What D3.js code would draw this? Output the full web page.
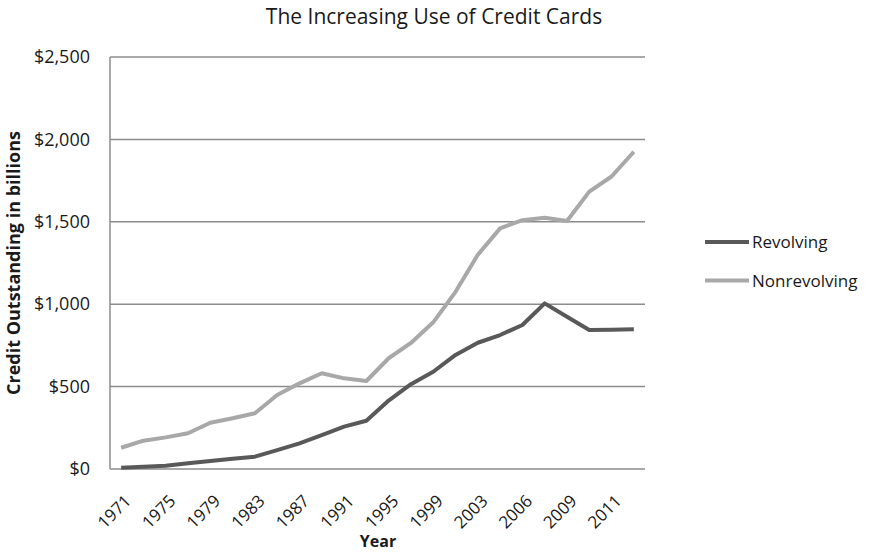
<!DOCTYPE html>
<html><head><meta charset="utf-8">
<script src="https://cdn.jsdelivr.net/npm/d3@7"></script>
<style>body{margin:0;background:#fff;} svg{display:block;} text{font-family:"Open Sans",Lato,sans-serif;fill:#1a1a1a;}</style>
</head><body>
<svg id="c" width="874" height="552"></svg>
<script>
const years = ["1971","1973","1975","1977","1979","1981","1983","1985","1987","1989","1991","1993","1995","1997","1999","2001","2003","2005","2006","2008","2009","2010","2011","2012"];
const shownLabels = ["1971","1975","1979","1983","1987","1991","1995","1999","2003","2006","2009","2011"];
const revolving =    [8, 14, 20, 35, 49, 62, 75, 115, 156, 205, 257, 293, 415, 515, 590, 692, 766, 813, 874, 1005, 924, 843, 845, 848];
const nonrevolving = [129, 172, 192, 217, 281, 308, 338, 449, 520, 581, 550, 534, 672, 765, 890, 1075, 1300, 1460, 1510, 1525, 1505, 1683, 1775, 1925];
const yTicks = [0, 500, 1000, 1500, 2000, 2500];
const seriesNames = ["Revolving", "Nonrevolving"];
const seriesColors = ["#595959", "#a8a8a8"];

const FONT = "'Open Sans',Lato,sans-serif";
const svg = d3.select("#c");
const L = 110, R = 645, T = 57, B = 469;
const x = d3.scaleBand().domain(years).range([L, R]).padding(0);
const xc = d => x(d) + x.bandwidth() / 2;
const y = d3.scaleLinear().domain([0, 2500]).range([B, T]);

// gridlines
svg.append("g").selectAll("line").data(yTicks).join("line")
  .attr("x1", L).attr("x2", R).attr("y1", d => y(d)).attr("y2", d => y(d))
  .attr("stroke", "#8c8c8c").attr("stroke-width", 1.5);
// left axis line
svg.append("line").attr("x1", L).attr("x2", L).attr("y1", T).attr("y2", B)
  .attr("stroke", "#8c8c8c").attr("stroke-width", 1.5);

// y axis labels
const yAxis = d3.axisLeft(y).tickValues(yTicks).tickSize(0).tickPadding(20)
  .tickFormat(d => "$" + d3.format(",")(d));
const gy = svg.append("g").attr("transform", `translate(${L},0)`).call(yAxis);
gy.select(".domain").remove();
gy.selectAll("text").style("font-size", "18px").style("font-family", FONT).attr("fill", "#1a1a1a");

// x axis labels
const xAxis = d3.axisBottom(x).tickValues(shownLabels).tickSize(0).tickPadding(0);
const gx = svg.append("g").attr("transform", `translate(0,${B})`).call(xAxis);
gx.select(".domain").remove();
gx.selectAll("text")
  .style("font-size", "17px").style("font-family", FONT).attr("fill", "#1a1a1a")
  .attr("text-anchor", "end").attr("dy", null).attr("y", 0)
  .attr("transform", "translate(11,33) rotate(-45)");

// lines
const line = d3.line().x((d, i) => xc(years[i])).y(d => y(d));
[revolving, nonrevolving].forEach((s, k) => {
  svg.append("path").datum(s).attr("d", line).attr("fill", "none")
    .attr("stroke", seriesColors[k]).attr("stroke-width", 4)
    .attr("stroke-linejoin", "round");
});

// title
svg.append("text").attr("x", 434).attr("y", 24).attr("text-anchor", "middle")
  .style("font-size", "21px").text("The Increasing Use of Credit Cards");
// axis titles
svg.append("text").attr("transform", `translate(20,${(T + B) / 2}) rotate(-90)`).attr("text-anchor", "middle")
  .style("font-size", "18px").style("font-weight", "bold").text("Credit Outstanding in billions");
svg.append("text").attr("x", 378).attr("y", 547).attr("text-anchor", "middle")
  .style("font-size", "16px").style("font-weight", "bold").text("Year");

// legend
seriesNames.forEach((n, k) => {
  const ly = 242 + k * 38.5;
  svg.append("line").attr("x1", 705).attr("x2", 749).attr("y1", ly).attr("y2", ly)
    .attr("stroke", seriesColors[k]).attr("stroke-width", 4);
  svg.append("text").attr("x", 752).attr("y", ly + 6).style("font-size", "17px").text(n);
});
</script>
</body></html>
